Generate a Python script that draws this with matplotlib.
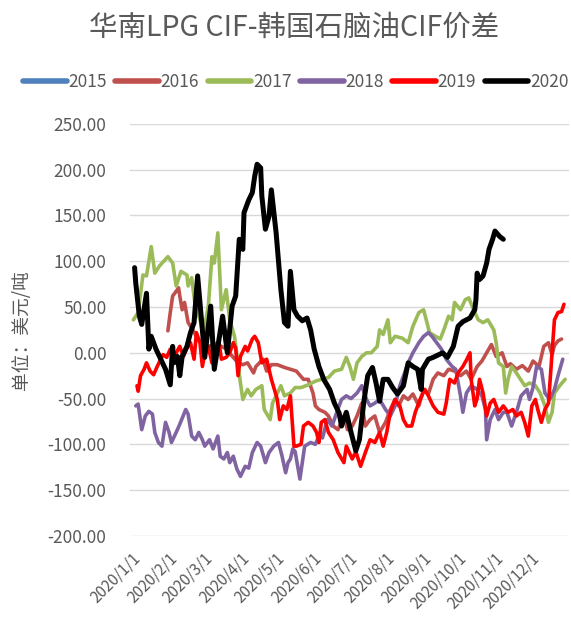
import matplotlib
matplotlib.use("Agg")
import matplotlib.pyplot as plt
import pandas as pd

plt.rcParams['font.family'] = ['Noto Sans CJK SC', 'DejaVu Sans']

# 数据: 每年的日期序号(从1月1日起的天数)和价差(美元/吨)
years = ["2015", "2016", "2017", "2018", "2019", "2020"]
colors = ["#4F81BD", "#C0504D", "#9BBB59", "#8064A2", "#FF0000", "#000000"]

d2015 = []
v2015 = []

d2016 = [30, 32, 34, 38, 39, 40, 42, 44, 47, 51, 55, 61, 70, 78, 85, 89, 93, 97, 102, 104,
         110, 113, 117, 122, 128, 133, 138, 144, 148, 152, 154, 157, 162, 165, 169, 173, 178, 181, 185, 189,
         193, 196, 200, 204, 208, 213, 217, 221, 224, 228, 232, 236, 241, 245, 249, 253, 257, 262, 266, 271,
         276, 281, 285, 290, 294, 298, 302, 306, 311, 315, 318, 323, 328, 333, 337, 342, 346, 350, 353, 355,
         358, 361]
v2016 = [24, 44, 62, 69, 71, 62, 47, 55, 33, 25, 15, 5, 10, 5, -5, -11, -13, -11, -22, -15,
         -7, -20, -13, -13, -16, -18, -20, -29, -29, -44, -58, -62, -65, -69, -80, -84, -69, -84, -80, -69,
         -55, -80, -73, -69, -87, -76, -62, -51, -58, -47, -51, -45, -58, -40, -45, -29, -22, -25, -18, -20,
         -25, -20, -29, -15, -9, 0, 9, -4, 0, -15, -12, -18, -14, -20, -9, -15, 7, 11, -2, 8,
         13, 15]

d2017 = [1, 5, 9, 12, 16, 19, 23, 30, 34, 37, 41, 46, 47, 50, 53, 57, 60, 64, 67, 69,
         72, 75, 79, 82, 86, 91, 93, 97, 100, 104, 109, 111, 116, 118, 121, 125, 128, 133, 137, 142,
         148, 154, 159, 165, 170, 176, 180, 183, 186, 189, 193, 197, 201, 206, 208, 211, 215, 217, 221, 227,
         232, 236, 241, 245, 250, 255, 259, 262, 266, 269, 271, 276, 280, 283, 287, 291, 295, 299, 304, 306,
         308, 312, 314, 316, 319, 323, 330, 334, 339, 343, 347, 350, 353, 355, 360, 364]
v2017 = [36, 44, 85, 84, 116, 87, 95, 105, 98, 73, 89, 85, 73, 82, 51, 36, 22, 51, 105, 98,
         131, 47, 69, 36, 18, -33, -51, -40, -47, -40, -36, -62, -73, -55, -47, -36, -47, -44, -38, -38,
         -35, -31, -29, -27, -20, -18, -5, -15, -29, -11, -4, 0, 0, 7, 25, 20, 36, 11, 18, 16,
         11, 29, 44, 47, 22, 18, 15, 25, 40, 36, 55, 47, 58, 60, 47, 36, 33, 36, 25, 11,
         -11, -15, -44, -29, -15, -22, -36, -33, -36, -44, -58, -76, -65, -44, -35, -29]

d2018 = [3, 5, 8, 11, 14, 17, 19, 22, 25, 28, 31, 33, 38, 40, 45, 47, 50, 53, 56, 59,
         61, 65, 68, 72, 74, 77, 80, 82, 85, 88, 91, 95, 98, 101, 105, 108, 112, 115, 119, 123,
         126, 129, 131, 133, 135, 137, 141, 145, 150, 154, 157, 160, 164, 168, 172, 176, 180, 184, 189, 193,
         197, 200, 204, 208, 213, 217, 221, 225, 229, 232, 236, 241, 245, 249, 252, 256, 260, 264, 269, 272,
         276, 278, 281, 285, 290, 294, 297, 298, 301, 305, 308, 312, 315, 319, 323, 327, 332, 334, 337, 340,
         344, 347, 351, 355, 358, 362]
v2018 = [-58, -56, -84, -69, -64, -67, -87, -98, -102, -76, -87, -98, -84, -78, -62, -67, -91, -95, -87, -95,
         -102, -95, -105, -91, -113, -116, -109, -120, -113, -127, -135, -124, -126, -109, -98, -102, -120, -109, -102, -98,
         -113, -131, -120, -116, -105, -108, -138, -102, -98, -100, -91, -93, -73, -80, -65, -51, -47, -50, -44, -36,
         -51, -58, -55, -51, -62, -69, -58, -36, -22, -11, 0, 11, 18, 22, 18, 11, 4, -7, -15, -18,
         -47, -65, -44, -36, -40, -47, -62, -95, -73, -62, -73, -65, -65, -80, -65, -47, -40, -51, -38, -15,
         -18, -44, -51, -40, -25, -7]

d2019 = [4, 5, 7, 10, 12, 15, 18, 21, 24, 26, 29, 32, 34, 37, 40, 43, 46, 49, 52, 54,
         57, 59, 61, 64, 67, 70, 73, 75, 79, 82, 85, 87, 89, 91, 95, 97, 101, 103, 106, 109,
         113, 117, 122, 124, 127, 130, 133, 136, 138, 142, 144, 148, 152, 155, 157, 159, 162, 165, 169, 173,
         178, 180, 185, 188, 192, 196, 200, 204, 208, 211, 214, 217, 221, 225, 228, 231, 235, 238, 242, 246,
         249, 253, 257, 262, 264, 267, 271, 274, 278, 281, 284, 285, 288, 290, 292, 295, 298, 301, 304, 308,
         312, 316, 320, 323, 327, 330, 333, 336, 339, 341, 344, 347, 350, 353, 355, 358, 361, 363]
v2019 = [-36, -42, -25, -18, -11, -20, -24, -15, -7, -2, -5, 4, -2, 0, 7, -4, 5, 11, -7, 22,
         11, -15, 0, 7, -11, 0, 11, -7, -5, 0, 11, 5, -25, -4, 7, 2, 15, 18, 11, -11,
         -7, -29, -51, -73, -58, -62, -47, -102, -102, -100, -80, -76, -80, -87, -98, -76, -73, -87, -95, -109,
         -120, -102, -116, -108, -124, -109, -95, -98, -87, -102, -87, -65, -51, -58, -73, -80, -80, -65, -51, -40,
         -47, -58, -65, -67, -55, -29, -33, -22, -15, -8, 0, -29, -58, -50, -29, -44, -69, -55, -51, -65,
         -58, -65, -62, -69, -65, -76, -91, -58, -51, -62, -76, -62, -55, 0, 36, 44, 45, 53]

d2020 = [2, 3, 6, 8, 12, 14, 16, 20, 24, 28, 32, 34, 35, 38, 40, 42, 46, 49, 52, 55,
         61, 66, 69, 76, 80, 84, 87, 90, 93, 94, 98, 101, 103, 105, 108, 109, 112, 115, 117, 121,
         125, 128, 131, 133, 136, 139, 143, 147, 150, 153, 157, 161, 166, 170, 174, 176, 180, 184, 188, 191,
         195, 198, 202, 205, 208, 211, 215, 219, 223, 228, 232, 236, 240, 243, 244, 249, 253, 261, 265, 270,
         274, 278, 284, 288, 289, 290, 292, 295, 298, 300, 303, 305, 309, 312]
v2020 = [93, 76, 40, 31, 65, 4, 18, 4, -7, -18, -35, 7, -11, -4, -25, -4, 7, 22, 33, 84,
         -5, 51, -18, 40, 0, 51, 62, 124, 113, 153, 167, 175, 193, 206, 202, 171, 135, 149, 178, 131,
         69, 33, 29, 89, 47, 40, 35, 38, 25, 4, -15, -29, -40, -55, -66, -80, -65, -87, -107, -95,
         -51, -25, -16, -33, -53, -29, -29, -38, -45, -36, -11, -15, -18, -40, -18, -7, -5, 0, -5, 7,
         29, 34, 38, 47, 58, 87, 80, 84, 98, 113, 124, 133, 127, 124]

days = [d2015, d2016, d2017, d2018, d2019, d2020]
values = [v2015, v2016, v2017, v2018, v2019, v2020]
widths = [2.6, 2.6, 2.6, 2.6, 2.6, 3.6]

start = pd.Timestamp("2020-01-01")
grey = "#595959"

fig = plt.figure(figsize=(5.71, 6.26), dpi=100)
ax = fig.add_axes([0.228, 0.144, 0.768, 0.658])

for yr, c, d, v, w in zip(years, colors, days, values, widths):
    x = start + pd.to_timedelta(d, unit="D")
    ax.plot(x, v, color=c, lw=w, label=yr, solid_joinstyle="round", solid_capstyle="round")

ax.set_ylim(-200, 250)
ax.set_yticks(range(-200, 251, 50))
ax.set_yticklabels([f"{t:.2f}" for t in range(-200, 251, 50)])
ax.set_xlim(start - pd.Timedelta(days=1.7), start + pd.Timedelta(days=367))
months = pd.date_range("2020-01-01", "2020-12-01", freq="MS")
ax.set_xticks(months)
ax.set_xticklabels([f"2020/{m.month}/1" for m in months], rotation=45, ha="right",
                   va="top", rotation_mode="anchor")

ax.grid(axis="y", color="#D9D9D9", lw=1)
ax.set_axisbelow(True)
for s in ax.spines.values():
    s.set_visible(False)
ax.tick_params(axis="both", length=0, colors=grey)
ax.tick_params(axis="y", pad=17, labelsize=12.5)
ax.tick_params(axis="x", pad=10, labelsize=11)

ax.set_ylabel("单位：美元/吨", color=grey, fontsize=13.5)
ax.yaxis.set_label_coords(-0.225, 0.5)

fig.text(0.515, 0.955, "华南LPG CIF-韩国石脑油CIF价差", ha="center", va="center",
         fontsize=20.5, color=grey)

leg = fig.legend(loc="center", bbox_to_anchor=(0.518, 0.869), ncol=6, frameon=False,
                 fontsize=12.5, handlelength=2.5, handletextpad=0.1, columnspacing=0.5,
                 labelcolor=grey)
for line in leg.get_lines():
    line.set_linewidth(4)
    line.set_solid_capstyle("round")

fig.savefig("out.png", dpi=100)
